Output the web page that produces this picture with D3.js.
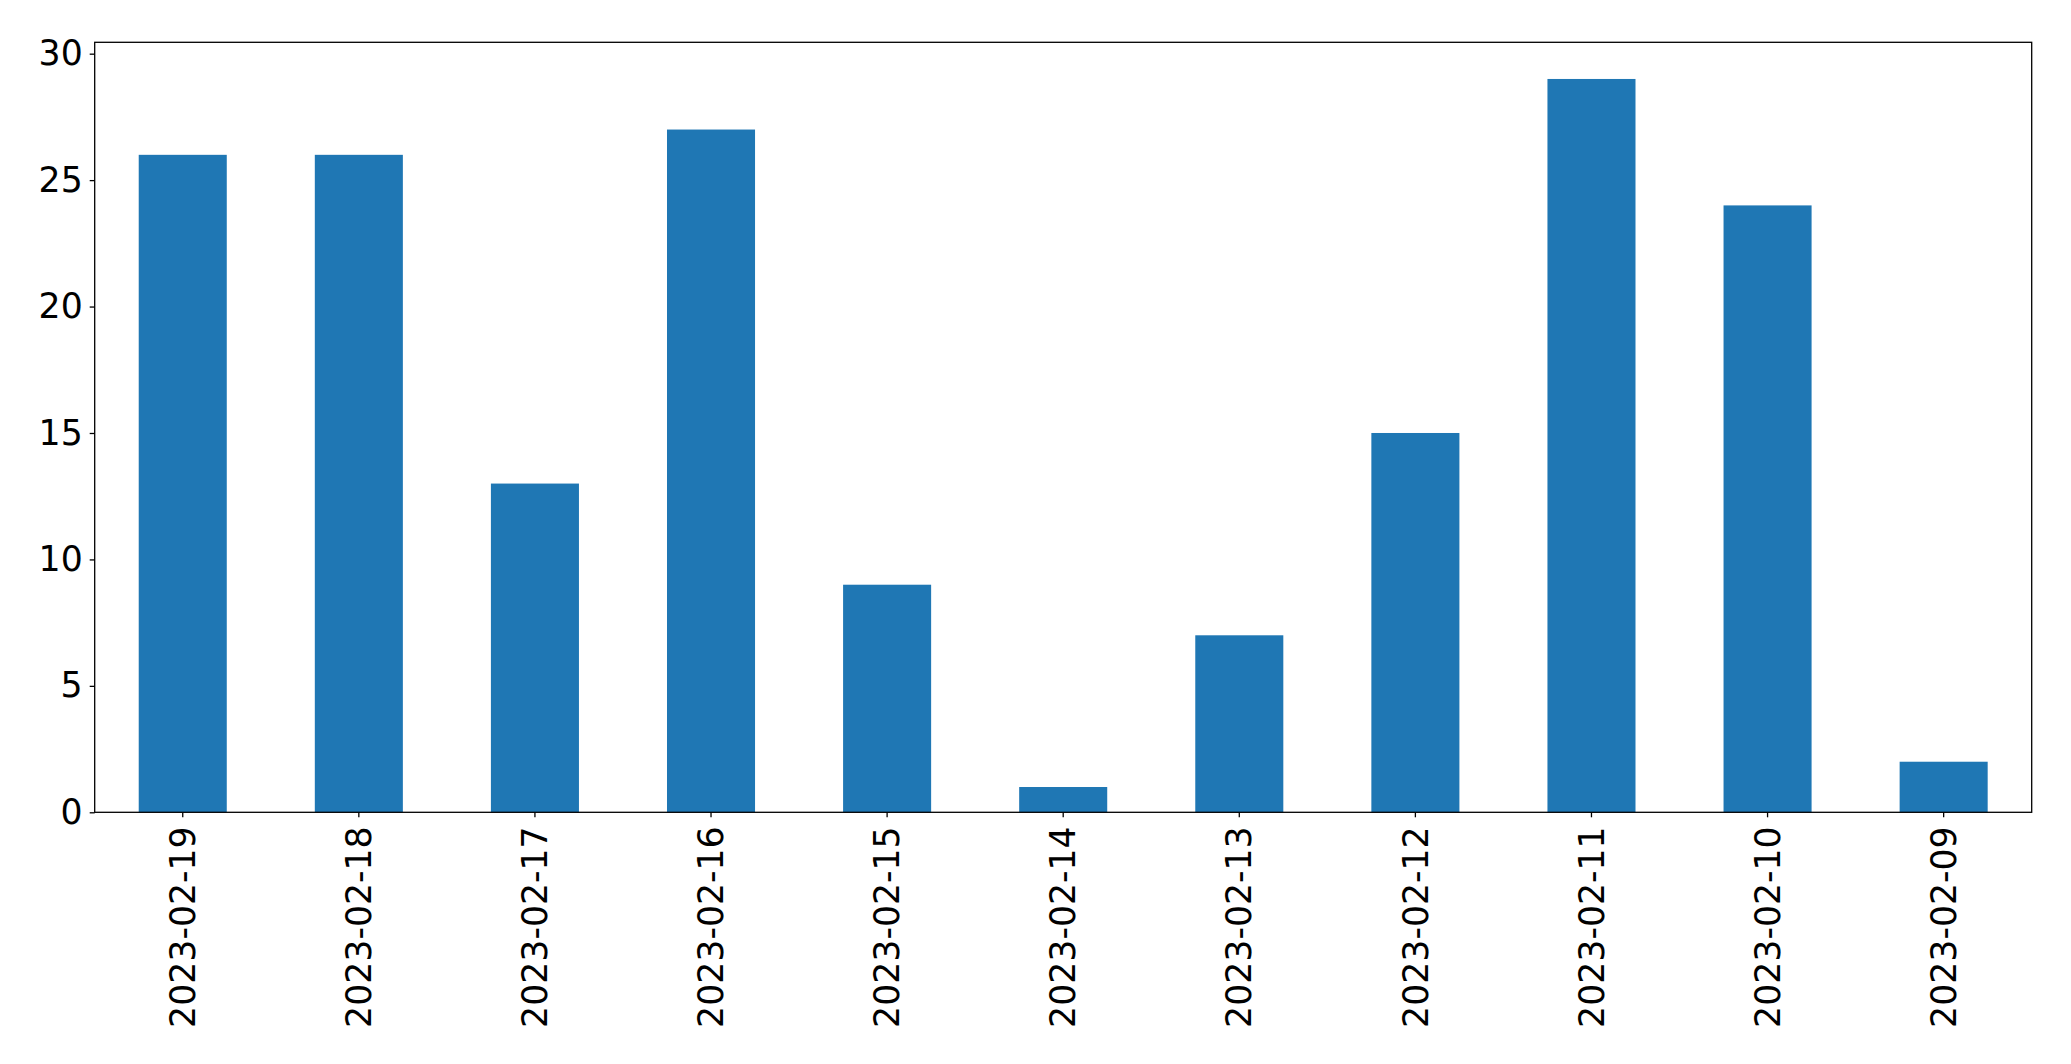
<!DOCTYPE html>
<html>
<head>
<meta charset="utf-8">
<script src="https://cdn.jsdelivr.net/npm/d3@7/dist/d3.min.js"></script>
<style>
  html, body { margin: 0; padding: 0; background: #fff; }
  svg { display: block; }
</style>
</head>
<body>
<svg id="chart" width="2071" height="1064"></svg>
<script>
const categories = ["2023-02-19","2023-02-18","2023-02-17","2023-02-16","2023-02-15","2023-02-14","2023-02-13","2023-02-12","2023-02-11","2023-02-10","2023-02-09"];
const values = [26, 26, 13, 27, 9, 1, 7, 15, 29, 24, 2];
const yTicks = [0, 5, 10, 15, 20, 25, 30];

const W = 2071, H = 1064;
const margin = { left: 94.7, top: 42.3, right: W - 2031.7, bottom: H - 812.3 };
const iw = W - margin.left - margin.right;
const ih = H - margin.top - margin.bottom;

const svg = d3.select("#chart");
const g = svg.append("g").attr("transform", `translate(${margin.left},${margin.top})`);

const x = d3.scaleBand().domain(categories).range([0, iw]).paddingInner(0.5).paddingOuter(0.25);
const yMax = d3.max(values) * 1.05;
const y = d3.scaleLinear().domain([0, yMax]).range([ih, 0]);

g.selectAll("rect.bar").data(values).enter().append("rect")
  .attr("class", "bar")
  .attr("x", (d, i) => x(categories[i]))
  .attr("width", x.bandwidth())
  .attr("y", d => y(d))
  .attr("height", d => ih - y(d))
  .attr("fill", "#1f77b4");

const font = "'DejaVu Sans', sans-serif";
const fs = "34.7px";

const yAxis = g.append("g").call(d3.axisLeft(y).tickValues(yTicks).tickSize(5).tickPadding(7).tickFormat(d3.format("d")));
yAxis.select(".domain").remove();
yAxis.selectAll("line").attr("stroke", "#000").attr("stroke-width", 1.3);
yAxis.selectAll("text").attr("font-family", font).attr("font-size", fs).attr("fill", "#000");

const xAxis = g.append("g").attr("transform", `translate(0,${ih})`).call(d3.axisBottom(x).tickSize(5).tickPadding(0));
xAxis.select(".domain").remove();
xAxis.selectAll("line").attr("stroke", "#000").attr("stroke-width", 1.3);
xAxis.selectAll("text")
  .attr("font-family", font).attr("font-size", fs).attr("fill", "#000")
  .attr("text-anchor", "end")
  .attr("transform", "translate(0,14) rotate(-90)")
  .attr("x", 0).attr("y", 0).attr("dy", "0.35em");

g.append("rect").attr("x", 0).attr("y", 0).attr("width", iw).attr("height", ih)
  .attr("fill", "none").attr("stroke", "#000").attr("stroke-width", 1.3);
</script>
</body>
</html>
